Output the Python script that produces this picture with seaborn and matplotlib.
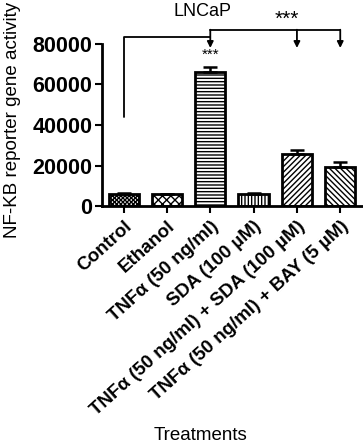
import pandas as pd
import matplotlib
matplotlib.use('Agg')
import matplotlib.pyplot as plt
import seaborn as sns

# Data
treatments = ['Control', 'Ethanol', 'TNF\u03b1 (50 ng/ml)', 'SDA (100 \u00b5M)',
              'TNF\u03b1 (50 ng/ml) + SDA (100 \u00b5M)', 'TNF\u03b1 (50 ng/ml) + BAY (5 \u00b5M)']
activity = [6000, 5900, 66000, 6000, 25500, 19500]
errors = [300, 300, 2600, 250, 2200, 2000]
hatches = ['xxxxxxxx', 'xxxx', '-----', '|||||', '//////', '\\\\\\\\\\\\']

df = pd.DataFrame({'Treatment': treatments, 'Activity': activity})

sns.set_style('ticks')
plt.rcParams['font.family'] = ['Liberation Sans', 'DejaVu Sans']
plt.rcParams['hatch.linewidth'] = 1.0
for k in ['text.color', 'axes.labelcolor', 'xtick.color', 'ytick.color']:
    plt.rcParams[k] = 'black'

fig = plt.figure(figsize=(3.63, 4.48), dpi=100)
ax = fig.add_axes([0.281, 0.540, 0.716, 0.362])

sns.barplot(data=df, x='Treatment', y='Activity', color='white', edgecolor='black',
            linewidth=2, width=0.7, errorbar=None, ax=ax)
for patch, h in zip(ax.patches, hatches):
    patch.set_hatch(h)
    patch.set_facecolor('white')

ax.errorbar(range(len(treatments)), activity, yerr=[[0] * len(errors), errors],
            fmt='none', ecolor='black', elinewidth=1.8, capsize=5, capthick=1.8)

ax.set_xlim(-0.5, 5.5)
ax.set_ylim(0, 80000)
ax.set_yticks([0, 20000, 40000, 60000, 80000])
sns.despine(ax=ax)
for s in ['left', 'bottom']:
    ax.spines[s].set_linewidth(2)
    ax.spines[s].set_color('black')
ax.tick_params(axis='both', width=1.5, length=5, colors='black')
ax.tick_params(axis='y', labelsize=15.5, pad=2)
for lab in ax.get_yticklabels():
    lab.set_fontweight('bold')
ax.set_xticks(range(len(treatments)))
ax.set_xticklabels(treatments, rotation=42, ha='right', rotation_mode='anchor',
                   fontsize=13.5, fontweight='bold')

ax.set_xlabel('Treatments', fontsize=13.5, labelpad=0)
ax.xaxis.set_label_coords(0.38, -1.36)
ax.set_ylabel('NF-KB reporter gene activity', fontsize=13.5)
ax.yaxis.set_label_coords(-0.31, 0.53)
ax.set_title('LNCaP', fontsize=13, x=0.385, y=1.12)

# significance brackets
kw = dict(color='black', lw=1.3, clip_on=False)
ax.plot([0, 0, 2], [44000, 83500, 83500], **kw)
ax.plot([2, 5], [87000, 87000], **kw)
arrow = dict(arrowstyle='-|>', color='black', lw=1.3, mutation_scale=9, shrinkA=0, shrinkB=0)
ax.annotate('', xy=(2, 78000), xytext=(2, 87000), arrowprops=arrow, annotation_clip=False)
ax.annotate('', xy=(4, 78000), xytext=(4, 87000), arrowprops=arrow, annotation_clip=False)
ax.annotate('', xy=(5, 78000), xytext=(5, 87000), arrowprops=arrow, annotation_clip=False)
ax.text(3.77, 87500, '***', ha='center', va='bottom', fontsize=15, clip_on=False)
ax.text(2, 71000, '***', ha='center', va='bottom', fontsize=11)

fig.savefig('out.png', dpi=100)
